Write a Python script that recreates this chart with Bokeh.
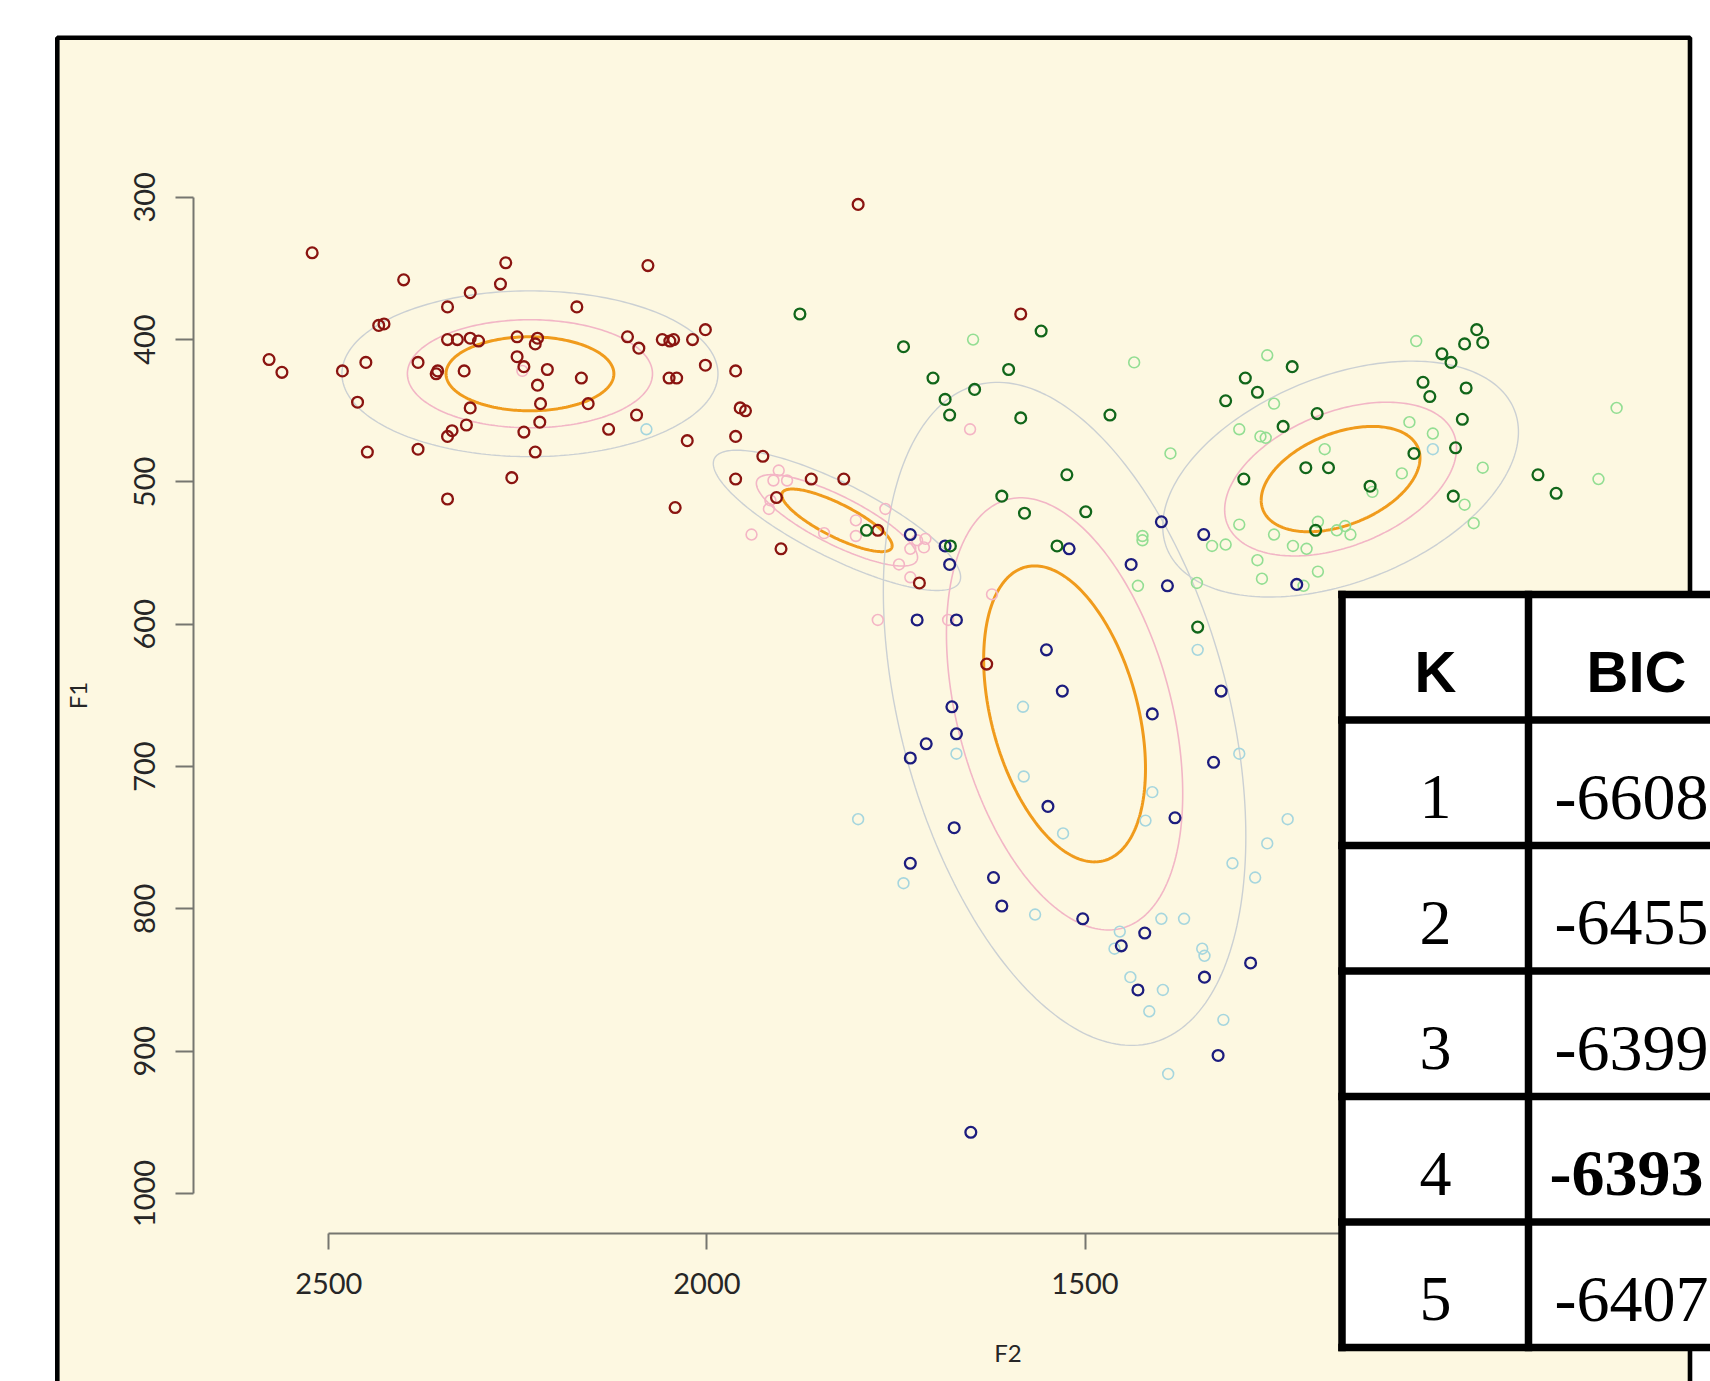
import math
from bokeh.plotting import figure
from bokeh.models import Range1d, FixedTicker
from bokeh.core.properties import value
from bokeh.embed import file_html
from bokeh.resources import INLINE

# ---------------- data (F2 = x, F1 = y) ----------------
DARKRED_F2 = [2522, 2266, 2078, 2401, 2313, 2273, 2343, 2172, 2434, 2427,
              2579, 2562, 2482, 2451, 2462, 2449, 2382, 2343, 2382, 2358,
              2356, 2321, 2343, 2330, 2313, 2302, 2251, 2224, 2227, 2251,
              2242, 2211, 2224, 2166, 2220, 2157, 2313, 2318, 2337, 2343,
              2221, 2242, 2227, 2258, 2130, 2093, 2105, 2090, 2059, 2049,
              2044, 2019, 2002, 2002, 2050, 2040, 1962, 1956, 1949, 1962,
              2026, 2042, 1962, 1926, 1800, 1585, 1862, 1819, 1908, 1902,
              1774, 1719, 1630]
DARKRED_F1 = [339, 346, 348, 358, 367, 361, 377, 377, 390, 389,
              414, 423, 422, 416, 444, 479, 477, 512, 416, 424,
              422, 422, 400, 400, 399, 401, 398, 399, 403, 412,
              419, 421, 432, 427, 445, 445, 448, 460, 464, 468,
              458, 465, 479, 497, 463, 453, 398, 406, 400, 401,
              400, 400, 393, 418, 427, 427, 422, 448, 450, 468,
              471, 518, 498, 482, 305, 382, 498, 498, 511, 547,
              534, 571, 628]

PINK_F2 = [2244, 1941, 1905, 1912, 1894, 1918, 1916, 1845, 1803, 1803,
           1764, 1731, 1722, 1711, 1713, 1746, 1731, 1774, 1681, 1652, 1623]
PINK_F1 = [422, 537, 492, 499, 499, 519, 513, 536, 527, 538,
           519, 547, 541, 540, 546, 558, 567, 597, 597, 463, 579]

NAVY_F2 = [1731, 1685, 1679, 1521, 1399, 1343, 1439, 1391, 1220, 1722,
           1670, 1551, 1530, 1676, 1670, 1710, 1731, 1549, 1673, 1411,
           1320, 1330, 1381, 1731, 1621, 1610, 1503, 1421, 1452, 1281,
           1342, 1430, 1324, 1651]
NAVY_F1 = [537, 545, 558, 547, 528, 537, 558, 573, 572, 597,
           597, 618, 647, 658, 677, 684, 694, 728, 743, 663,
           647, 697, 736, 768, 778, 798, 807, 817, 826, 838,
           848, 857, 903, 957]

LIGHTBLUE_F2 = [2080, 1582, 1670, 1581, 1800, 1351, 1411, 1420, 1529, 1296,
                1232, 1259, 1305, 1275, 1740, 1566, 1399, 1369, 1454, 1461,
                1345, 1342, 1440, 1397, 1415, 1317, 1390, 1040]
LIGHTBLUE_F1 = [463, 658, 691, 707, 737, 618, 718, 738, 747, 691,
                737, 754, 768, 778, 782, 804, 807, 807, 816, 828,
                828, 833, 848, 857, 872, 878, 916, 477]

DARKGREEN_F2 = [1877, 1740, 1558, 1701, 1601, 1646, 1685, 1679, 1585, 1467,
                1288, 1272, 1314, 1290, 1524, 1610, 1580, 1499, 1789, 1537,
                1678, 1351, 982, 974, 998, 1028, 1016, 1226, 1053, 1044,
                996, 1001, 1193, 1238, 1010, 1065, 1208, 1178, 1123, 1013,
                901, 877, 1195]
DARKGREEN_F1 = [382, 405, 394, 427, 421, 435, 442, 453, 455, 453,
                427, 437, 443, 498, 495, 510, 522, 521, 534, 545,
                545, 602, 393, 402, 403, 410, 416, 419, 430, 440,
                434, 456, 452, 461, 476, 480, 490, 490, 503, 510,
                495, 508, 534]

LIGHTGREEN_F2 = [1648, 1435, 1259, 1250, 1296, 1268, 1387, 1296, 1250, 1424,
                 1424, 1332, 1314, 1272, 1266, 1352, 1430, 1192, 1211, 1062,
                 1261, 1071, 1040, 1183, 1081, 974, 797, 821, 998, 986,
                 1120, 1192, 1167, 1156, 1149, 1225, 1207]
LIGHTGREEN_F1 = [400, 416, 411, 445, 463, 468, 480, 530, 537, 538,
                 541, 545, 544, 555, 568, 571, 573, 563, 573, 401,
                 469, 458, 466, 477, 494, 490, 448, 498, 516, 529,
                 507, 528, 534, 531, 537, 545, 547]

# mixture components (mean, sd, correlation) -> contour ellipses
COMP_F2 = [2234, 1828, 1527, 1162]
COMP_F1 = [424, 527, 663, 498]
COMP_SD_F2 = [111, 73, 107, 105]
COMP_SD_F1 = [26, 22, 104, 37]
COMP_RHO = [0.0, -0.81, -0.37, 0.40]
CONTOUR_SCALE = [2.24, 1.46, 1.0]

X_TICKS = [2500, 2000, 1500, 1000]
Y_TICKS = [300, 400, 500, 600, 700, 800, 900, 1000]

TABLE_K = [1, 2, 3, 4, 5]
TABLE_BIC = [-6608, -6455, -6399, -6393, -6407]

# ---------------- styles ----------------
CREAM = "#FDF8E1"
AX_COL = "#767670"
LBL_COL = "#262626"
AX_FONT = "Lato"
CONTOUR_COLORS = ["#CBD0D3", "#F2B6C6", "#F09B1C"]
CONTOUR_WIDTHS = [1.4, 1.6, 3.0]

# page-pixel calibration
PX_X2500, PX_PER_F2 = 328.3, 0.7562
PX_Y300, PX_PER_F1 = 196.8, 1.4231


def px2x(px):
    return 2500 - (px - PX_X2500) / PX_PER_F2


def px2y(py):
    return 300 + (py - PX_Y300) / PX_PER_F1


W, H = 1710, 1381
p = figure(width=W, height=H,
           x_range=Range1d(px2x(0), px2x(W)),
           y_range=Range1d(px2y(H), px2y(0)),
           output_backend="svg", toolbar_location=None, min_border=0,
           outline_line_color=None, background_fill_color="white",
           border_fill_color="white")
p.grid.visible = False

# slide frame (cream panel with black border)
p.quad(left=[px2x(56.8)], right=[px2x(1689.5)], top=[px2y(37.2)], bottom=[px2y(1500)],
       fill_color=CREAM, line_color="black", line_width=4.6, level="underlay")

# ---------------- axes ----------------
xa = p.xaxis[0]
xa.fixed_location = px2y(1232.7)
xa.bounds = (703, 2500)
xa.ticker = FixedTicker(ticks=X_TICKS)
ya = p.yaxis[0]
ya.fixed_location = px2x(192.9)
ya.bounds = (300, 1000)
ya.ticker = FixedTicker(ticks=Y_TICKS)
ya.major_label_orientation = "vertical"
for ax in (xa, ya):
    ax.axis_line_color = AX_COL
    ax.axis_line_width = 2
    ax.major_tick_line_color = AX_COL
    ax.major_tick_line_width = 2
    ax.minor_tick_line_color = None
    ax.major_tick_in = 0
    ax.major_label_text_font = AX_FONT
    ax.major_label_text_font_size = "29px"
    ax.major_label_text_color = LBL_COL
    ax.axis_label_text_font = AX_FONT
    ax.axis_label_text_font_size = "24px"
    ax.axis_label_text_font_style = "normal"
    ax.axis_label_text_color = LBL_COL
xa.major_tick_out = 16
xa.major_label_standoff = 24
xa.axis_label = "F2"
xa.axis_label_standoff = 40
ya.major_tick_out = 18
ya.major_label_standoff = 20
ya.axis_label = "F1"
ya.axis_label_standoff = 40

# ---------------- contour ellipses ----------------
ts = [2 * math.pi * i / 240 for i in range(241)]
for mx, my, sx, sy, r in zip(COMP_F2, COMP_F1, COMP_SD_F2, COMP_SD_F1, COMP_RHO):
    for k, col, lw in zip(CONTOUR_SCALE, CONTOUR_COLORS, CONTOUR_WIDTHS):
        xs = [mx + k * sx * math.cos(t) for t in ts]
        ys = [my + k * sy * (r * math.cos(t) + math.sqrt(1 - r * r) * math.sin(t)) for t in ts]
        p.line(xs, ys, line_color=col, line_width=lw)

# ---------------- points ----------------
groups = [
    (PINK_F2, PINK_F1, "#F4B5C5", 1.6),
    (LIGHTBLUE_F2, LIGHTBLUE_F1, "#A6D6DE", 1.6),
    (LIGHTGREEN_F2, LIGHTGREEN_F1, "#93DE93", 1.6),
    (DARKRED_F2, DARKRED_F1, "#8A1410", 2.3),
    (NAVY_F2, NAVY_F1, "#1C1C7E", 2.3),
    (DARKGREEN_F2, DARKGREEN_F1, "#11661A", 2.3),
]
for xs, ys, col, lw in groups:
    p.scatter(xs, ys, marker="circle", size=10.8, fill_color=None,
              line_color=col, line_width=lw)

# ---------------- BIC table (overlay) ----------------
TBL_LEFT, TBL_DIV, TBL_TOP, ROW = 1341.5, 1528.0, 594.0, 125.5
TBL_LW = 7.5
n_lines = len(TABLE_K) + 2
tbl_bottom = TBL_TOP + (n_lines - 1) * ROW
p.quad(left=[px2x(TBL_LEFT)], right=[px2x(1760)], top=[px2y(TBL_TOP)], bottom=[px2y(tbl_bottom)],
       fill_color="white", line_color=None, level="overlay")
hy = [px2y(TBL_TOP + i * ROW) for i in range(n_lines)]
p.segment(x0=[px2x(TBL_LEFT - TBL_LW / 2)] * n_lines, x1=[px2x(1760)] * n_lines,
          y0=hy, y1=hy, line_color="black", line_width=TBL_LW, level="overlay")
vx = [px2x(TBL_LEFT), px2x(TBL_DIV)]
p.segment(x0=vx, x1=vx, y0=[px2y(TBL_TOP - TBL_LW / 2)] * 2,
          y1=[px2y(tbl_bottom + TBL_LW / 2)] * 2,
          line_color="black", line_width=TBL_LW, level="overlay")

base = [px2y(TBL_TOP + i * ROW + 77) for i in range(n_lines - 1)]
p.text(x=[px2x(1435)], y=[base[0]], text=["K"], text_font=value("Liberation Sans"),
       text_font_style="bold", text_font_size="58px", text_align="center",
       text_baseline="alphabetic", text_color="black", level="overlay")
p.text(x=[px2x(1586)], y=[base[0]], text=["BIC"], text_font=value("Liberation Sans"),
       text_font_style="bold", text_font_size="58px", text_align="left",
       text_baseline="alphabetic", text_color="black", level="overlay")
p.text(x=[px2x(1435)] * len(TABLE_K), y=base[1:], text=[str(k) for k in TABLE_K],
       text_font=value("Liberation Serif"), text_font_size="64px", text_align="center",
       text_baseline="alphabetic", text_color="black", level="overlay")
best = max(TABLE_BIC)
reg_i = [i for i, b in enumerate(TABLE_BIC) if b != best]
best_i = [i for i, b in enumerate(TABLE_BIC) if b == best]
p.text(x=[px2x(1554)] * len(reg_i), y=[base[1 + i] for i in reg_i],
       text=[str(TABLE_BIC[i]) for i in reg_i],
       text_font=value("Liberation Serif"), text_font_size="66px", text_align="left",
       text_baseline="alphabetic", text_color="black", level="overlay")
p.text(x=[px2x(1549)] * len(best_i), y=[base[1 + i] for i in best_i],
       text=[str(TABLE_BIC[i]) for i in best_i],
       text_font=value("Liberation Serif"), text_font_style="bold", text_font_size="66px",
       text_align="left", text_baseline="alphabetic", text_color="black", level="overlay")

open("out.html", "w").write(file_html(p, INLINE))
